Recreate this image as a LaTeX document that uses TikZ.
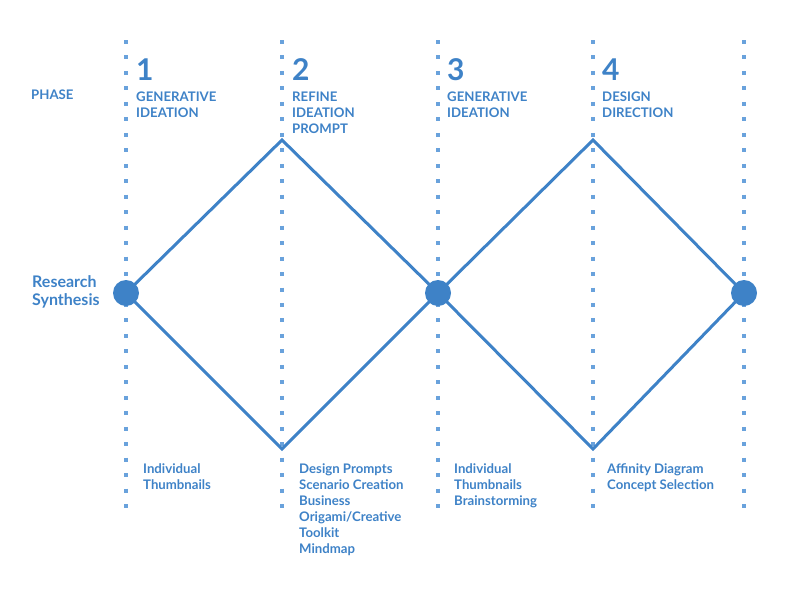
\documentclass[tikz,border=0pt]{standalone}
\usepackage{fontspec}
\setmainfont{Lato}
\definecolor{phaseblue}{RGB}{62,130,199}
\definecolor{dotblue}{RGB}{105,162,220}
\tikzset{
  guide/.style={dotblue,line width=4pt,dash pattern=on 4pt off 11.47pt},
  path/.style={phaseblue,line width=3pt,line join=miter},
  stop/.style={circle,fill=phaseblue,minimum size=26pt,inner sep=0pt},
  num/.style={phaseblue,anchor=base west,inner sep=0pt,font=\bfseries\fontsize{30}{30}\selectfont},
  label/.style={phaseblue,anchor=base west,inner sep=0pt,align=left,font=\bfseries\fontsize{13.2}{16}\selectfont},
  side/.style={phaseblue,anchor=base west,inner sep=0pt,align=left,font=\bfseries\fontsize{16}{18}\selectfont}
}

\begin{document}
\begin{tikzpicture}[x=1pt,y=-1pt]
  \useasboundingbox (0,0) rectangle (800,600);
  % dotted phase borders
  \foreach \x in {126,282,438,593,744}
    \draw[guide] (\x,40) -- (\x,508);

  % diamonds
  \coordinate (top1) at (282,140);
  \coordinate (bot1) at (282,449);
  \coordinate (top2) at (593,140);
  \coordinate (bot2) at (593,449);
  \coordinate (start) at (126,293);
  \coordinate (mid) at (438,293);
  \coordinate (end) at (744,293);
  \draw[path] (start) -- (top1) -- (mid) -- (bot1) -- cycle;
  \draw[path] (mid) -- (top2) -- (end) -- (bot2) -- cycle;
  \node[stop] (s0) at (start) {};
  \node[stop] (s1) at (mid) {};
  \node[stop] (s2) at (end) {};

  % headings (base = last line)
  \node[label] (phase) at (31,99) {PHASE};
  \node[num] (n1) at (136,80) {1};
  \node[num] (n2) at (292,80) {2};
  \node[num] (n3) at (447,80) {3};
  \node[num] (n4) at (602,80) {4};
  \node[label] (p1) at (136,117) {GENERATIVE\\IDEATION};
  \node[label] (p2) at (292,133) {REFINE\\IDEATION\\PROMPT};
  \node[label] (p3) at (447,117) {GENERATIVE\\IDEATION};
  \node[label] (p4) at (602,117) {DESIGN\\DIRECTION};

  \node[side] (synth) at (32,305) {Research\\Synthesis};

  % methods
  \node[label] (m1) at (143,489) {Individual\\Thumbnails};
  \node[label] (m2) at (299,553) {Design Prompts\\Scenario Creation\\Business\\Origami/Creative\\Toolkit\\Mindmap};
  \node[label] (m3) at (454,505) {Individual\\Thumbnails\\Brainstorming};
  \node[label] (m4) at (607,489) {Affinity Diagram\\Concept Selection};
\end{tikzpicture}
\end{document}
